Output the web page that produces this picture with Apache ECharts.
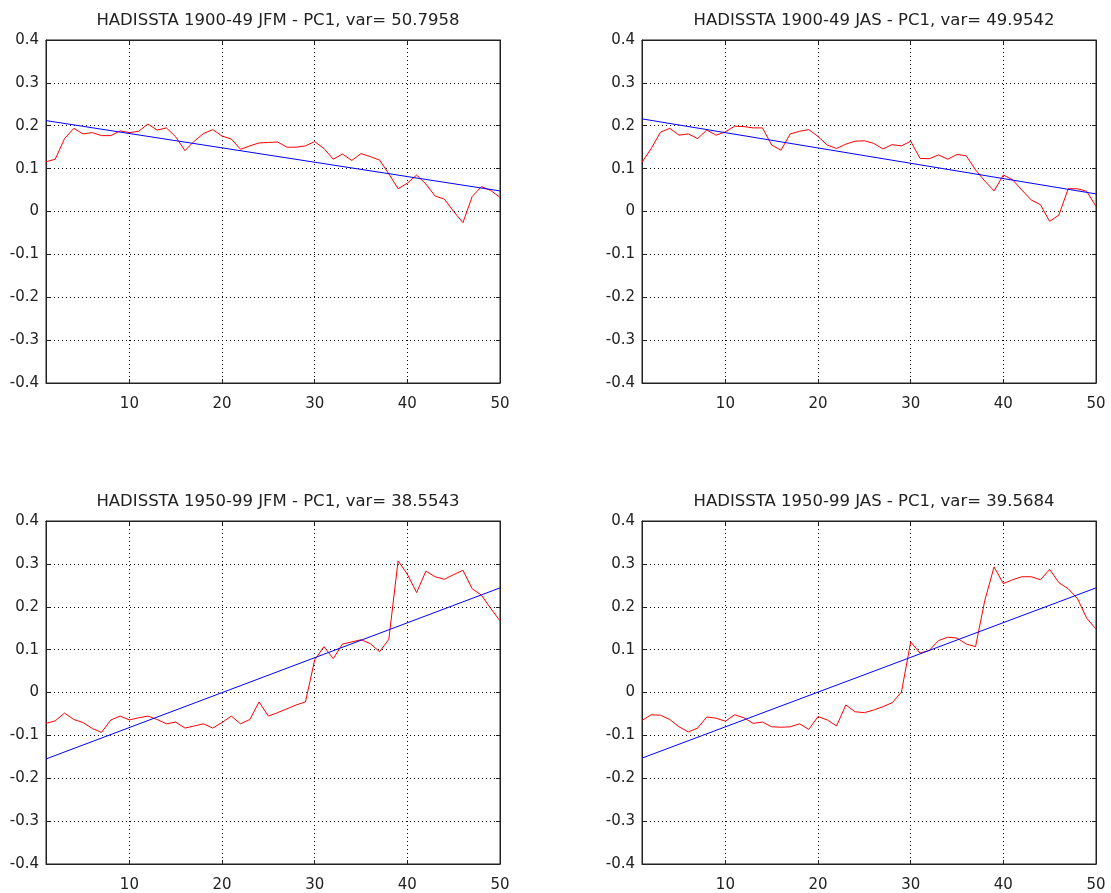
<!DOCTYPE html>
<html><head><meta charset="utf-8">
<script src="https://cdn.jsdelivr.net/npm/echarts@6/dist/echarts.min.js"></script>
<style>html,body{margin:0;padding:0;background:#fff}#c{width:1111px;height:893px}</style>
</head><body><div id="c"></div>
<script>
// ---- data ----
const titles = [
  'HADISSTA 1900-49 JFM - PC1, var= 50.7958',
  'HADISSTA 1900-49 JAS - PC1, var= 49.9542',
  'HADISSTA 1950-99 JFM - PC1, var= 38.5543',
  'HADISSTA 1950-99 JAS - PC1, var= 39.5684'
];
const xIndex = [1,2,3,4,5,6,7,8,9,10,11,12,13,14,15,16,17,18,19,20,21,22,23,24,25,26,27,28,29,30,31,32,33,34,35,36,37,38,39,40,41,42,43,44,45,46,47,48,49,50];
const pc1_1900_jfm = [0.116,0.122,0.170,0.194,0.181,0.184,0.177,0.177,0.188,0.184,0.187,0.204,0.190,0.195,0.174,0.142,0.164,0.182,0.191,0.176,0.169,0.145,0.153,0.160,0.161,0.162,0.150,0.150,0.153,0.163,0.147,0.122,0.134,0.119,0.135,0.128,0.120,0.088,0.053,0.066,0.085,0.064,0.036,0.029,0.000,-0.026,0.035,0.058,0.049,0.033];
const pc1_1900_jas = [0.115,0.147,0.185,0.194,0.178,0.181,0.170,0.190,0.178,0.186,0.199,0.198,0.195,0.195,0.155,0.143,0.181,0.187,0.191,0.175,0.155,0.147,0.157,0.164,0.165,0.159,0.146,0.156,0.153,0.164,0.124,0.123,0.132,0.122,0.133,0.130,0.097,0.071,0.048,0.085,0.074,0.050,0.027,0.016,-0.023,-0.008,0.053,0.053,0.047,0.012];
const pc1_1950_jfm = [-0.072,-0.066,-0.048,-0.063,-0.070,-0.084,-0.093,-0.064,-0.055,-0.064,-0.059,-0.055,-0.063,-0.073,-0.069,-0.083,-0.078,-0.073,-0.083,-0.070,-0.055,-0.073,-0.063,-0.022,-0.055,-0.047,-0.038,-0.029,-0.022,0.076,0.107,0.079,0.113,0.118,0.123,0.114,0.095,0.124,0.307,0.276,0.233,0.283,0.270,0.264,0.275,0.285,0.242,0.227,0.196,0.167];
const pc1_1950_jas = [-0.065,-0.052,-0.053,-0.063,-0.080,-0.092,-0.083,-0.057,-0.060,-0.067,-0.052,-0.059,-0.072,-0.069,-0.080,-0.081,-0.080,-0.073,-0.086,-0.056,-0.064,-0.078,-0.029,-0.045,-0.047,-0.041,-0.033,-0.024,0.001,0.118,0.092,0.098,0.121,0.129,0.127,0.113,0.107,0.215,0.293,0.254,0.263,0.270,0.270,0.263,0.287,0.256,0.242,0.219,0.173,0.148];
// linear trend end values (at x = 1 and x = 50)
const trendX = [1, 50];
const trend_1900_jfm = [0.212, 0.048];
const trend_1900_jas = [0.216, 0.041];
const trend_1950_jfm = [-0.155, 0.244];
const trend_1950_jas = [-0.153, 0.244];
const yTicks = [-0.4,-0.3,-0.2,-0.1,0,0.1,0.2,0.3,0.4];

const pcs = [pc1_1900_jfm, pc1_1900_jas, pc1_1950_jfm, pc1_1950_jas];
const trends = [trend_1900_jfm, trend_1900_jas, trend_1950_jfm, trend_1950_jas];

// ---- layout ----
const grids = [
  {left:46, top:40, width:454, height:343},
  {left:642, top:40, width:454, height:343},
  {left:46, top:521, width:454, height:344},
  {left:642, top:521, width:454, height:344}
];
const FONT = "'DejaVu Sans', 'Liberation Sans', Arial, sans-serif";
const txt = '#222';
const frame = '#222';
const dots = {color:'#000', width:1, type:[1,3]};

const option = {
  animation:false,
  backgroundColor:'#fff',
  title: grids.map((g,i)=>({
    text: titles[i],
    left: g.left + g.width/2,
    top: g.top - 33,
    textAlign:'center',
    textStyle:{fontFamily:FONT, fontSize:16.5, fontWeight:'normal', color:txt}
  })),
  grid: grids.map(g=>Object.assign({containLabel:false, show:true, borderColor:frame, borderWidth:1, backgroundColor:'transparent'}, g)),
  xAxis: [],
  yAxis: [],
  series: []
};

grids.forEach((g,i)=>{
  option.xAxis.push({
    type:'value', gridIndex:i, min:1, max:50, splitNumber:5, position:'bottom',
    axisLine:{show:true, onZero:false, lineStyle:{color:frame, width:1}},
    axisTick:{show:true, inside:true, length:4, lineStyle:{color:frame}},
    axisLabel:{show:true, showMinLabel:false, margin:14, color:txt, fontFamily:FONT, fontSize:15},
    splitLine:{show:true, lineStyle:dots}
  });
  option.xAxis.push({
    type:'value', gridIndex:i, min:1, max:50, splitNumber:5, position:'top',
    axisLine:{show:true, onZero:false, lineStyle:{color:frame, width:1}},
    axisTick:{show:true, inside:true, length:4, lineStyle:{color:frame}},
    axisLabel:{show:false}, splitLine:{show:false}
  });
  option.yAxis.push({
    type:'value', gridIndex:i, min:yTicks[0], max:yTicks[yTicks.length-1], interval:0.1, position:'left',
    axisLine:{show:true, onZero:false, lineStyle:{color:frame, width:1}},
    axisTick:{show:true, inside:true, length:4, lineStyle:{color:frame}},
    axisLabel:{show:true, margin:7, color:txt, fontFamily:FONT, fontSize:15,
      formatter:v=>{const r=Math.round(v*10)/10; return r===0?'0':String(r);}},
    splitLine:{show:true, lineStyle:dots}
  });
  option.yAxis.push({
    type:'value', gridIndex:i, min:yTicks[0], max:yTicks[yTicks.length-1], interval:0.1, position:'right',
    axisLine:{show:true, onZero:false, lineStyle:{color:frame, width:1}},
    axisTick:{show:true, inside:true, length:4, lineStyle:{color:frame}},
    axisLabel:{show:false}, splitLine:{show:false}
  });
  option.series.push({
    type:'line', xAxisIndex:2*i, yAxisIndex:2*i, showSymbol:false, symbol:'none', silent:true,
    data: xIndex.map((x,k)=>[x, pcs[i][k]]),
    lineStyle:{color:'#ff0000', width:1}, z:3
  });
  option.series.push({
    type:'line', xAxisIndex:2*i, yAxisIndex:2*i, showSymbol:false, symbol:'none', silent:true,
    data: trendX.map((x,k)=>[x, trends[i][k]]),
    lineStyle:{color:'#0000ff', width:1}, z:4
  });
});

const chart = echarts.init(document.getElementById('c'), null, {renderer:'canvas'});
chart.setOption(option);
</script>
</body></html>
